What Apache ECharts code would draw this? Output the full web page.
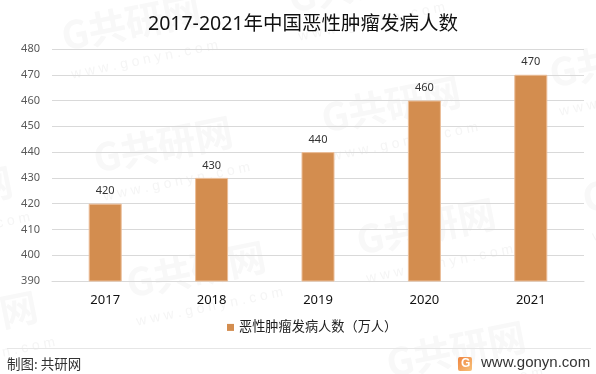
<!DOCTYPE html>
<html>
<head>
<meta charset="utf-8">
<style>html,body{margin:0;padding:0;background:#fff}#main{width:596px;height:374px}</style>
<script src="https://cdn.jsdelivr.net/npm/echarts@6/dist/echarts.min.js"></script>
</head>
<body>
<div id="main"></div>
<script>
var years = ['2017', '2018', '2019', '2020', '2021'];
var patients = [420, 430, 440, 460, 470];
var seriesName = '恶性肿瘤发病人数（万人）';
var titleText = '2017-2021年中国恶性肿瘤发病人数';
var fontCn = '"Noto Sans", "Noto Sans CJK SC", sans-serif';

// 水印
var marks = [[58, 18], [90, 140], [123, 265], [318, 100], [353, 222], [383, 345], [546, 55], [579, 180], [-105, 315], [-130, 190], [285, -20]];
var graphics = [];
marks.forEach(function (m) {
  graphics.push({
    type: 'text', x: m[0], y: m[1], rotation: 0.2, silent: true, z: 0,
    style: { text: 'G共研网', fill: '#f8f8f8', font: 'bold 38px "Noto Sans CJK SC"' }
  });
  graphics.push({
    type: 'text', x: m[0] + 12, y: m[1] + 50, rotation: 0.2, silent: true, z: 0,
    style: { text: 'w w w . g o n y n . c o m', fill: '#f5f5f5', font: '14px "Liberation Sans"' }
  });
});
// 页脚
graphics.push({ type: 'line', silent: true, shape: { x1: 7, y1: 348.5, x2: 591, y2: 348.5 }, style: { stroke: '#e6e6e6', lineWidth: 1 } });
graphics.push({ type: 'text', x: 7, y: 357, silent: true, style: { text: '制图: 共研网', fill: '#333', font: '13.5px "Noto Sans CJK SC"' } });
graphics.push({
  type: 'rect', silent: true, shape: { x: 458, y: 357, width: 14, height: 14, r: 2 },
  style: { fill: new echarts.graphic.LinearGradient(0, 0, 1, 1, [{ offset: 0, color: '#f0843f' }, { offset: 1, color: '#f7c27a' }]) }
});
graphics.push({ type: 'text', x: 461, y: 358, silent: true, style: { text: 'G', fill: '#fff', font: 'bold 12px "Liberation Sans"' } });
graphics.push({ type: 'text', x: 481, y: 355, silent: true, style: { text: 'www.gonyn.com', fill: '#333', font: '15px "Liberation Sans"' } });

var chart = echarts.init(document.getElementById('main'));
chart.setOption({
  animation: false,
  backgroundColor: '#fff',
  title: {
    text: titleText,
    left: 298, top: 10, textAlign: 'center',
    textStyle: { color: '#111', fontSize: 19.5, fontWeight: 'normal', fontFamily: fontCn }
  },
  grid: { left: 52, right: 12, top: 49, bottom: 93 },
  legend: {
    bottom: 35, left: 222, itemWidth: 7, itemHeight: 7, icon: 'rect',
    itemStyle: { borderWidth: 0 },
    textStyle: { color: '#222', fontSize: 13.2, fontFamily: fontCn }
  },
  xAxis: {
    type: 'category', data: years,
    axisLine: { lineStyle: { color: '#d9d9d9' } },
    axisTick: { show: false },
    axisLabel: { color: '#111', fontSize: 13, margin: 13, fontFamily: fontCn }
  },
  yAxis: {
    type: 'value', min: 390, max: 480, interval: 10,
    axisLine: { show: false }, axisTick: { show: false },
    splitLine: { lineStyle: { color: '#d9d9d9' } },
    axisLabel: { color: '#595959', fontSize: 11, margin: 12, fontFamily: fontCn }
  },
  series: [{
    name: seriesName, type: 'bar', data: patients, barWidth: 33,
    itemStyle: { color: '#d38d4f', borderColor: '#ebbd98', borderWidth: 1 },
    label: { show: true, position: 'top', color: '#333', fontSize: 11, distance: 7, fontFamily: fontCn }
  }],
  graphic: graphics
});
</script>
</body>
</html>
